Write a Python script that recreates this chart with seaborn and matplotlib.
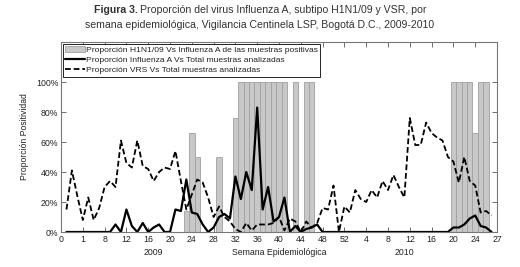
import numpy as np
import pandas as pd
import matplotlib
matplotlib.use("Agg")
import matplotlib.pyplot as plt
from matplotlib.patches import Patch
from matplotlib.lines import Line2D
import seaborn as sns

sns.set_style("ticks")
plt.rcParams["font.family"] = ["Liberation Sans", "DejaVu Sans"]

# semana consecutiva: 1 = semana 1 de 2009 ... 79 = semana 27 de 2010
weeks = list(range(1, 80))

# Proporcion VRS Vs Total muestras analizadas (%)
vrs = [15, 41, 24, 8, 23, 8, 16, 30, 34, 30,
       61, 46, 43, 61, 44, 42, 34, 40, 43, 42,
       54, 34, 15, 25, 35, 33, 23, 10, 17, 10,
       7, 2, 0, 6, 1, 5, 5, 5, 6, 10,
       1, 9, 7, 0, 7, 3, 6, 16, 15, 31,
       0, 17, 13, 28, 22, 20, 28, 23, 34, 28,
       38, 30, 23, 76, 58, 58, 73, 66, 63, 61,
       50, 47, 33, 50, 34, 31, 13, 14, 11]

# Proporcion Influenza A Vs Total muestras analizadas (%)
flu = [0, 0, 0, 0, 0, 0, 0, 0, 0, 5,
       0, 15, 4, 0, 6, 0, 3, 5, 0, 0,
       15, 14, 35, 13, 12, 5, 0, 3, 10, 12,
       9, 37, 22, 40, 28, 83, 15, 30, 7, 10,
       23, 0, 4, 0, 2, 3, 5, 0, 0, 0,
       0, 0, 0, 0, 0, 0, 0, 0, 0, 0,
       0, 0, 0, 0, 0, 0, 0, 0, 0, 0,
       0, 3, 3, 5, 9, 11, 4, 3, 0]

# Proporcion H1N1/09 Vs Influenza A de las muestras positivas (%)
h1n1_weeks = [23, 24, 25, 29, 32, 33, 34, 35, 36, 37, 38, 39, 40, 41,
              43, 45, 46, 72, 73, 74, 75, 76, 77, 78]
h1n1 = [14, 66, 50, 50, 76, 100, 100, 100, 100, 100, 100, 100, 100, 100,
        100, 100, 100, 100, 100, 100, 100, 66, 100, 100]

xtick_labels = ["0", "1", "8", "12", "16", "20", "24", "28", "32", "36", "40",
                "44", "48", "52", "4", "8", "12", "16", "20", "24", "27"]
ytick_labels = ["0%", "20%", "40%", "60%", "80%", "100%"]

lab_bar = "Proporción H1N1/09 Vs Influenza A de las muestras positivas"
lab_flu = "Proporción Influenza A Vs Total muestras analizadas"
lab_vrs = "Proporción VRS Vs Total muestras analizadas"

df = pd.DataFrame({"semana": weeks, "flu": flu, "vrs": vrs})
bars = pd.DataFrame({"semana": h1n1_weeks, "h1n1": h1n1})

W, H = 520, 267
fig = plt.figure(figsize=(W / 100, H / 100), dpi=100)
ax = fig.add_axes([61 / W, 35 / H, 436 / W, 190 / H])

bar_face = "#c8c8c8"
bar_edge = "#a0a0a0"
sns.barplot(data=bars, x="semana", y="h1n1", native_scale=True, width=1,
            color=bar_face, saturation=1, edgecolor=bar_edge, linewidth=0.6, ax=ax)
sns.lineplot(data=df, x="semana", y="flu", color="black", linewidth=1.6, ax=ax)
sns.lineplot(data=df, x="semana", y="vrs", color="black", linewidth=1.3,
             linestyle=(0, (3.2, 1.6)), ax=ax)

ax.set_xlim(0, 80)
ax.set_ylim(0, 126.7)
ax.set_xticks(range(0, 81, 4))
ax.set_xticklabels(xtick_labels)
ax.set_yticks(range(0, 101, 20))
ax.set_yticklabels(ytick_labels)
ax.set_xlabel("")
ax.set_ylabel("Proporción Positividad", fontsize=6.2, color="#222222", labelpad=5)

txt = "#222222"
ax.tick_params(direction="in", top=True, right=True, length=3.5, width=0.6,
               color="#555555", labelsize=6.3, labelcolor=txt, pad=2)
for s in ax.spines.values():
    s.set_color("#777777")
    s.set_linewidth(0.8)

# etiquetas bajo el eje
ax.text(17, -0.085, "2009", transform=ax.get_xaxis_transform(), ha="center", va="top",
        fontsize=6.3, color=txt)
ax.text(40, -0.085, "Semana Epidemiológica", transform=ax.get_xaxis_transform(),
        ha="center", va="top", fontsize=6.3, color=txt)
ax.text(63, -0.085, "2010", transform=ax.get_xaxis_transform(), ha="center", va="top",
        fontsize=6.3, color=txt)

handles = [Patch(facecolor=bar_face, edgecolor=bar_edge, linewidth=0.6),
           Line2D([], [], color="black", linewidth=1.6),
           Line2D([], [], color="black", linewidth=1.3, linestyle=(0, (3.2, 1.6)))]
leg = ax.legend(handles, [lab_bar, lab_flu, lab_vrs], loc="upper left",
                fontsize=6.1, frameon=True, fancybox=False, framealpha=1,
                borderaxespad=0.2, handlelength=2.3, handletextpad=0.15,
                labelspacing=0.25, borderpad=0.3)
leg.get_frame().set_edgecolor("black")
leg.get_frame().set_linewidth(0.6)
for t in leg.get_texts():
    t.set_color(txt)

# titulo con "Figura 3." en negrita
tcol = "#333333"
t1 = fig.text(0, 1 - 10 / H, "Figura 3.", fontsize=7.6, fontweight="bold",
              color=tcol, va="center")
t2 = fig.text(0, 1 - 10 / H, "Proporción del virus Influenza A, subtipo H1N1/09 y VSR, por",
              fontsize=7.6, color=tcol, va="center")
fig.text(0.5, 1 - 24.5 / H,
         "semana epidemiológica, Vigilancia Centinela LSP, Bogotá D.C., 2009-2010",
         fontsize=7.6, color=tcol, va="center", ha="center")
r = fig.canvas.get_renderer()
w1 = t1.get_window_extent(r).width
w2 = t2.get_window_extent(r).width
gap = 2.5
x0 = (W - (w1 + gap + w2)) / 2
t1.set_x(x0 / W)
t2.set_x((x0 + w1 + gap) / W)

fig.savefig("out.png", dpi=100)
